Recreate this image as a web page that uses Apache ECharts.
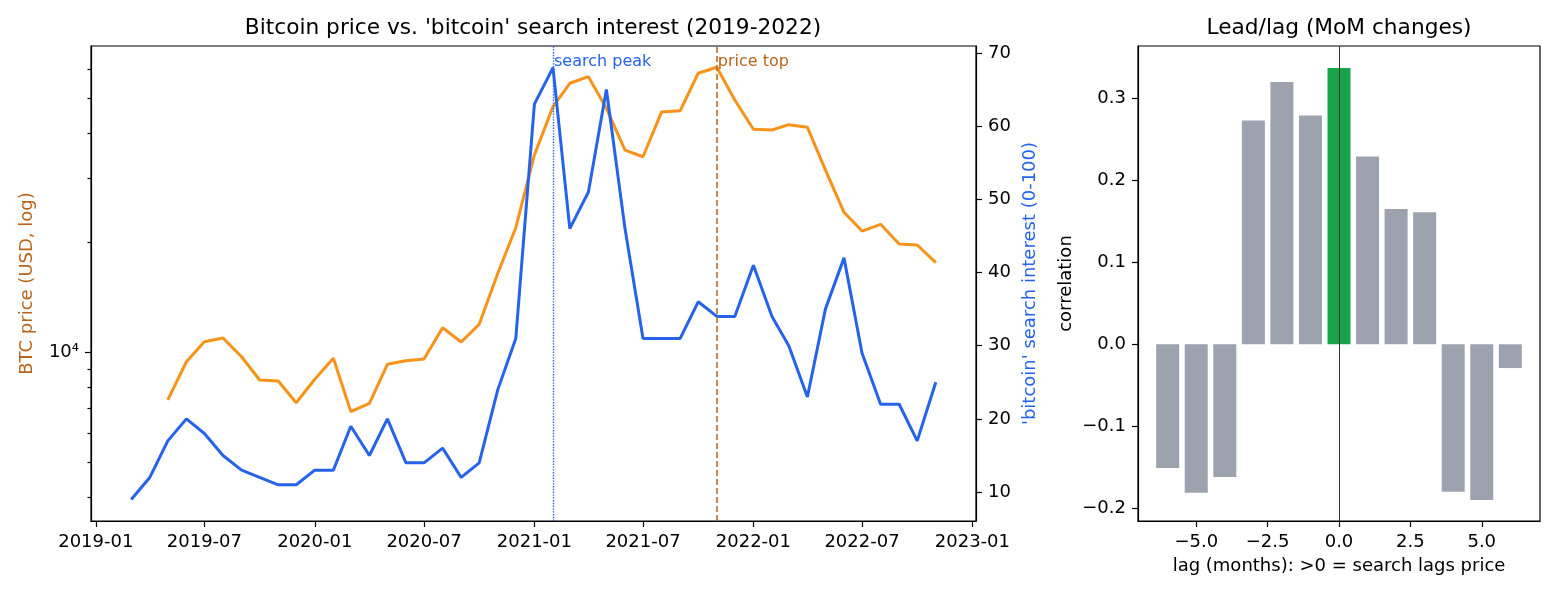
<!DOCTYPE html>
<html>
<head>
<meta charset="utf-8">
<script src="https://cdn.jsdelivr.net/npm/echarts@6/dist/echarts.min.js"></script>
<style>
  html, body { margin: 0; padding: 0; background: #fff; }
  #chart { width: 1560px; height: 598px; }
</style>
</head>
<body>
<div id="chart"></div>
<script>
// monthly series, 2019-03 .. 2022-11
const months = [
  '2019-03', '2019-04', '2019-05', '2019-06', '2019-07', '2019-08', '2019-09', '2019-10', '2019-11', '2019-12',
  '2020-01', '2020-02', '2020-03', '2020-04', '2020-05', '2020-06', '2020-07', '2020-08', '2020-09', '2020-10', '2020-11', '2020-12',
  '2021-01', '2021-02', '2021-03', '2021-04', '2021-05', '2021-06', '2021-07', '2021-08', '2021-09', '2021-10', '2021-11', '2021-12',
  '2022-01', '2022-02', '2022-03', '2022-04', '2022-05', '2022-06', '2022-07', '2022-08', '2022-09', '2022-10', '2022-11'
]
const searchInterest = [
  9, 12, 17, 20, 18, 15, 13, 12, 11, 11,
  13, 13, 19, 15, 20, 14, 14, 16, 12, 14, 24, 31,
  63, 68, 46, 51, 65, 46, 31, 31, 31, 36, 34, 34,
  41, 34, 30, 23, 35, 42, 29, 22, 22, 17, 25
]
const btcPrice = [
  null, null, 7400, 9420, 10690, 10950, 9720, 8390, 8340, 7270,
  8430, 9630, 6870, 7240, 9270, 9480, 9590, 11680, 10670, 11940, 16480, 21990,
  34830, 47300, 54820, 57170, 46800, 35940, 34450, 45750, 46100, 58420, 60670, 49330,
  41000, 40800, 42200, 41500, 31690, 24240, 21530, 22470, 19840, 19710, 17630
]
const dateTicks = ['2019-01', '2019-07', '2020-01', '2020-07', '2021-01', '2021-07', '2022-01', '2022-07', '2023-01']
const searchTicks = [10, 20, 30, 40, 50, 60, 70]
const priceMajorTicks = [10000]
const priceMinorTicks = [4000, 5000, 6000, 7000, 8000, 9000, 20000, 30000, 40000, 50000, 60000]
const searchPeak = '2021-02'
const priceTop = '2021-11'

// lead/lag correlation of month-over-month changes
const lags = [-6, -5, -4, -3, -2, -1, 0, 1, 2, 3, 4, 5, 6]
const lagCorr = [-0.151, -0.181, -0.162, 0.273, 0.320, 0.279, 0.337, 0.229, 0.165, 0.161, -0.180, -0.190, -0.029]
const lagTicks = [-5, -2.5, 0, 2.5, 5]
const corrTicks = [-0.2, -0.1, 0, 0.1, 0.2, 0.3]

const FONT = 'DejaVu Sans'
const ORANGE = '#f7931a'
const BROWN = '#b8651b'
const BLUE = '#2563eb'
const DAY = 86400000

const ts = (s) => {
  const [y, m] = s.split('-').map(Number)
  return Date.UTC(y, m - 1, 1)
}
const fmtMonth = (v) => {
  const d = new Date(v)
  return d.getUTCFullYear() + '-' + String(d.getUTCMonth() + 1).padStart(2, '0')
}
const minus = (s) => s.replace('-', '\u2212')

const bestIdx = lagCorr.indexOf(Math.max(...lagCorr))

const axisLine = { show: true, onZero: false, lineStyle: { color: '#000', width: 1.2 } }
const tickStyle = { lineStyle: { color: '#000', width: 1.2 } }
const labelStyle = { color: '#000', fontSize: 18, fontFamily: FONT, margin: 12 }
const nameStyle = { fontSize: 18, color: '#000', fontFamily: FONT }

const chart = echarts.init(document.getElementById('chart'))

const option = {
  animation: false,
  textStyle: { fontFamily: FONT },
  title: [
    {
      text: "Bitcoin price vs. 'bitcoin' search interest (2019-2022)",
      left: 533, top: 17, textAlign: 'center', padding: 0,
      textStyle: { fontSize: 21.7, fontWeight: 'normal', color: '#000', fontFamily: FONT }
    },
    {
      text: 'Lead/lag (MoM changes)',
      left: 1339, top: 17, textAlign: 'center', padding: 0,
      textStyle: { fontSize: 21.7, fontWeight: 'normal', color: '#000', fontFamily: FONT }
    }
  ],
  grid: [
    { left: 91, top: 46, width: 885, height: 475, show: true, borderColor: '#000', borderWidth: 1.2 },
    { left: 1138, top: 46, width: 402, height: 475, show: true, borderColor: '#000', borderWidth: 1.2 }
  ],
  xAxis: [
    {
      // dates as epoch ms on a plain value axis
      type: 'value', gridIndex: 0,
      min: ts(months[0]) - 67 * DAY,
      max: ts(months[months.length - 1]) + 67 * DAY,
      axisLine,
      axisTick: { customValues: dateTicks.map(ts), length: 6, ...tickStyle },
      axisLabel: { customValues: dateTicks.map(ts), formatter: fmtMonth, ...labelStyle },
      splitLine: { show: false }
    },
    {
      type: 'value', gridIndex: 1, min: -7.04, max: 7.04,
      axisLine,
      axisTick: { customValues: lagTicks, length: 6, ...tickStyle },
      axisLabel: { customValues: lagTicks, formatter: (v) => minus(v.toFixed(1)), ...labelStyle },
      splitLine: { show: false },
      name: 'lag (months): >0 = search lags price',
      nameLocation: 'middle', nameGap: 36,
      nameTextStyle: nameStyle
    }
  ],
  yAxis: [
    {
      type: 'log', logBase: 10, gridIndex: 0, position: 'left',
      min: 3440, max: 69400,
      axisLine,
      axisTick: { customValues: priceMajorTicks, length: 6, ...tickStyle },
      axisLabel: { customValues: priceMajorTicks, formatter: () => '10\u2074', ...labelStyle },
      splitLine: { show: false },
      name: 'BTC price (USD, log)',
      nameLocation: 'middle', nameGap: 55,
      nameTextStyle: { ...nameStyle, color: BROWN }
    },
    {
      type: 'value', gridIndex: 0, position: 'right',
      min: 6.05, max: 70.95,
      axisLine,
      axisTick: { customValues: searchTicks, length: 6, ...tickStyle },
      axisLabel: { customValues: searchTicks, ...labelStyle },
      splitLine: { show: false },
      name: "'bitcoin' search interest (0-100)",
      nameLocation: 'middle', nameGap: 36,
      nameTextStyle: { ...nameStyle, color: BLUE }
    },
    {
      // minor log ticks
      type: 'log', logBase: 10, gridIndex: 0, position: 'left',
      min: 3440, max: 69400,
      axisLine: { show: false },
      axisTick: { customValues: priceMinorTicks, length: 3.5, ...tickStyle },
      axisLabel: { show: false },
      splitLine: { show: false }
    },
    {
      type: 'value', gridIndex: 1,
      min: -0.2156, max: 0.3639,
      axisLine,
      axisTick: { customValues: corrTicks, length: 6, ...tickStyle },
      axisLabel: { customValues: corrTicks, formatter: (v) => minus(v.toFixed(1)), ...labelStyle },
      splitLine: { show: false },
      name: 'correlation',
      nameLocation: 'middle', nameGap: 63,
      nameTextStyle: nameStyle
    }
  ],
  series: [
    {
      name: 'BTC price', type: 'line', xAxisIndex: 0, yAxisIndex: 0,
      data: months.map((m, i) => [ts(m), btcPrice[i]]),
      showSymbol: false, z: 2,
      lineStyle: { color: ORANGE, width: 3 },
      itemStyle: { color: ORANGE }
    },
    {
      name: 'search interest', type: 'line', xAxisIndex: 0, yAxisIndex: 1,
      data: months.map((m, i) => [ts(m), searchInterest[i]]),
      showSymbol: false, z: 3,
      lineStyle: { color: BLUE, width: 3 },
      itemStyle: { color: BLUE },
      markLine: {
        silent: true, symbol: 'none',
        data: [
          {
            xAxis: ts(searchPeak),
            lineStyle: { color: BLUE, type: 'dotted', width: 1.4 },
            label: {
              show: true, formatter: 'search peak', position: 'end', distance: 0,
              align: 'left', verticalAlign: 'top', padding: [8, 0, 0, 1], lineHeight: 16,
              color: BLUE, fontSize: 16, fontFamily: FONT
            }
          },
          {
            xAxis: ts(priceTop),
            lineStyle: { color: BROWN, type: 'dashed', width: 1.5 },
            label: {
              show: true, formatter: 'price top', position: 'end', distance: 0,
              align: 'left', verticalAlign: 'top', padding: [8, 0, 0, 1], lineHeight: 16,
              color: BROWN, fontSize: 16, fontFamily: FONT
            }
          }
        ]
      }
    },
    {
      name: 'lag corr', type: 'bar', xAxisIndex: 1, yAxisIndex: 3,
      barWidth: 23,
      data: lags.map((l, i) => ({
        value: [l, lagCorr[i]],
        itemStyle: { color: i === bestIdx ? '#16a34a' : '#9ca3af' }
      })),
      markLine: {
        silent: true, symbol: 'none',
        label: { show: false },
        lineStyle: { color: '#333', type: 'solid', width: 1 },
        data: [{ xAxis: 0 }]
      }
    }
  ]
}
chart.setOption(option)
</script>
</body>
</html>
